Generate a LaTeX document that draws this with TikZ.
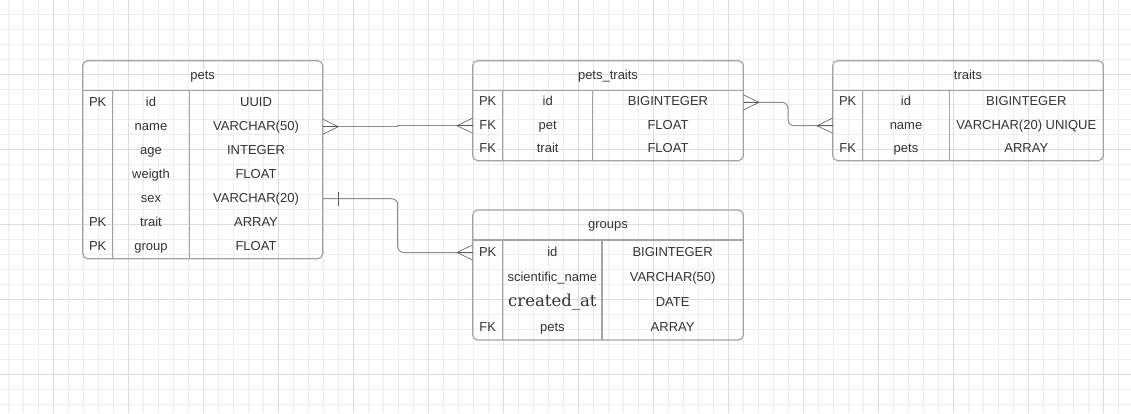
\documentclass[tikz,border=0pt]{standalone}
\usepackage{fontspec}
\setmainfont{Liberation Sans}
\newfontfamily\slabfont{DejaVu Serif}
\usepackage{tikz}
\usetikzlibrary{calc}

\definecolor{inkgray}{HTML}{333333}
\definecolor{framegray}{HTML}{A3A3A3}
\definecolor{linkgray}{HTML}{8C8C8C}
\definecolor{gridminor}{HTML}{EDEDED}
\definecolor{gridmajor}{HTML}{DCDCDC}

\tikzset{
  cell/.style={inner sep=0pt, text=inkgray, font=\fontsize{13}{15}\selectfont,
    text height=9.5pt, text depth=2.5pt},
  tabletitle/.style={cell, minimum height=30pt},
  tableframe/.style={draw=framegray, line width=1.2pt},
  connector/.style={draw=linkgray, line width=1pt},
  crowline/.style={draw=black!65, line width=0.6pt},
}

\newcommand{\slabtext}[1]{{\slabfont\fontsize{16.5}{18}\selectfont #1}}

% #1 name, #2 title, #3 left, #4 top, #5 first divider, #6 second divider,
% #7 right, #8 row height, #9 rows
\newcommand{\erdtable}[9]{%
  \node[tabletitle, minimum width={#7-#3}] (#1) at ({(#3+#7)/2}, {#4+15}) {#2};
  \foreach \k/\f/\t [count=\r] in {#9} {
    \node[cell, minimum width={#5-#3}, minimum height=#8] (#1-k\r)
      at ({(#3+#5)/2}, {#4+30+(\r-0.5)*#8}) {\k};
    \node[cell, minimum width={#6-#5}, minimum height=#8] (#1-f\r)
      at ({(#5+#6)/2}, {#4+30+(\r-0.5)*#8}) {\f};
    \node[cell, minimum width={#7-#6}, minimum height=#8] (#1-t\r)
      at ({(#6+#7)/2}, {#4+30+(\r-0.5)*#8}) {\t};
    \xdef\nrows{\r}
  }
  \pgfmathsetmacro\tbottom{#4+30+\nrows*#8}
  \draw[tableframe, rounded corners=5pt] (#3,#4) rectangle (#7,\tbottom);
  \draw[tableframe] (#3,#4+30) -- (#7,#4+30);
  \draw[tableframe] (#5,#4+30) -- (#5,\tbottom);
  \draw[tableframe] (#6,#4+30) -- (#6,\tbottom);
}

% crow's foot at an anchor, #2 = reach (+ right, - left)
\newcommand{\crowsfoot}[2]{%
  \draw[crowline] ($(#1)+(0,-7.5)$) -- ($(#1)+(#2,0)$) -- ($(#1)+(0,7.5)$);
  \draw[crowline] (#1) -- ($(#1)+(#2,0)$);
}

\begin{document}
\begin{tikzpicture}[x=1pt, y=-1pt]

  % Canvas
  \useasboundingbox (0,0) rectangle (1131,413);
  \fill[white] (0,0) rectangle (1131,413);

  % Draw the grid
  \foreach \i in {0,...,75} {
    \draw[gridminor, line width=0.8pt] ({8+15*\i},0) -- ({8+15*\i},413);
  }
  \foreach \i in {0,...,27} {
    \draw[gridminor, line width=0.8pt] (0,{14+15*\i}) -- (1131,{14+15*\i});
  }
  \foreach \i in {0,...,14} {
    \draw[gridmajor, line width=0.8pt] ({53+75*\i},0) -- ({53+75*\i},413);
  }
  \foreach \i in {0,...,4} {
    \draw[gridmajor, line width=0.8pt] (0,{74+75*\i}) -- (1131,{74+75*\i});
  }

  % Draw the tables
  \erdtable{pets}{pets}{82.7}{60.7}{112.7}{189.3}{322.7}{24}{%
    PK/id/UUID, /name/VARCHAR(50), /age/INTEGER, /weigth/FLOAT,
    /sex/VARCHAR(20), PK/trait/ARRAY, PK/group/FLOAT}
  \erdtable{ptraits}{pets\_traits}{472.7}{60.7}{502.7}{592.7}{743.3}{23.33}{%
    PK/id/BIGINTEGER, FK/pet/FLOAT, FK/trait/FLOAT}
  \erdtable{traits}{traits}{832.7}{60.7}{862.7}{949.3}{1103.3}{23.33}{%
    PK/id/BIGINTEGER, /name/VARCHAR(20) UNIQUE, FK/pets/ARRAY}
  \erdtable{groups}{groups}{472.7}{210}{502.7}{602}{743.3}{25}{%
    PK/id/BIGINTEGER, /scientific\_name/VARCHAR(50),
    /\slabtext{created\_at}/DATE, FK/pets/ARRAY}

  % Draw the relations
  \draw[connector] (pets-t2.east)
    -| ($(pets-t2.east)!0.5!(ptraits-k2.west)$) |- (ptraits-k2.west);
  \crowsfoot{pets-t2.east}{15.5}
  \crowsfoot{ptraits-k2.west}{-15.5}

  \draw[connector, rounded corners=6pt] (pets-t5.east)
    -| ($(pets-t5.east)!0.5!(groups-k1.west)$) |- (groups-k1.west);
  \draw[crowline, line width=0.9pt] ($(pets-t5.east)+(15.5,-7)$) -- ++(0,14);
  \crowsfoot{groups-k1.west}{-15.5}

  \draw[connector, rounded corners=6pt] (ptraits-t1.east)
    -| ($(ptraits-t1.east)!0.5!(traits-k2.west)$) |- (traits-k2.west);
  \crowsfoot{ptraits-t1.east}{15.5}
  \crowsfoot{traits-k2.west}{-15.5}

\end{tikzpicture}
\end{document}
